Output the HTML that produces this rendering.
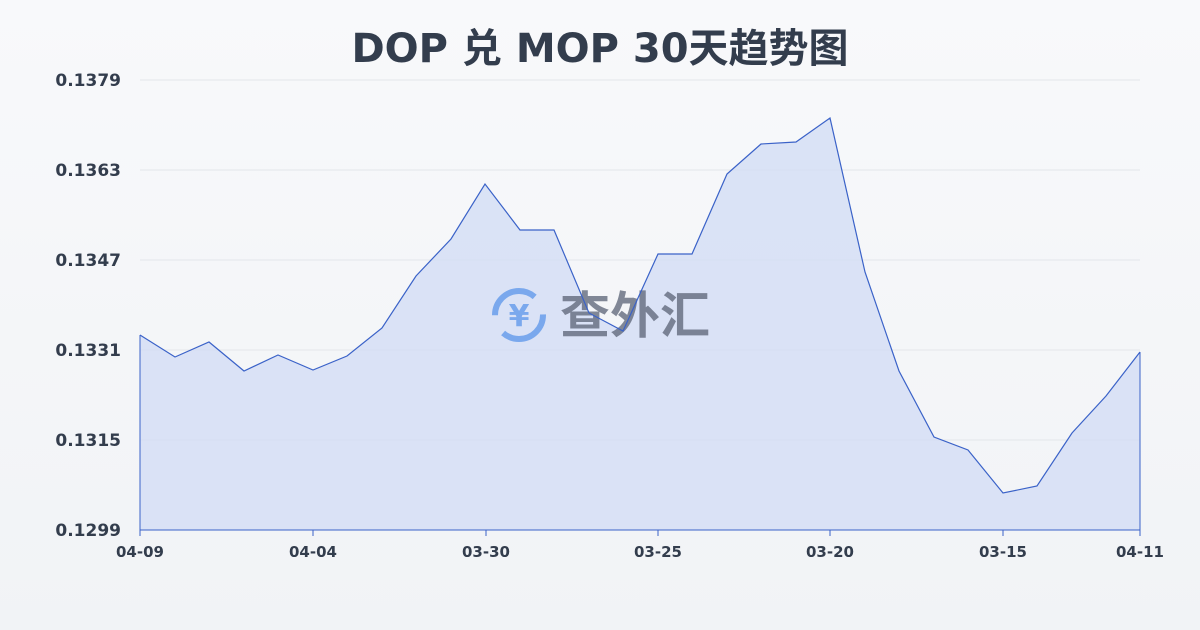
<!DOCTYPE html>
<html><head><meta charset="utf-8"><style>
html,body{margin:0;padding:0;width:1200px;height:630px;overflow:hidden;background:linear-gradient(#f8f9fb,#f1f3f6);font-family:"DejaVu Sans","Noto Sans CJK SC",sans-serif;}
</style></head><body>
<svg width="1200" height="630" xmlns="http://www.w3.org/2000/svg" style="position:absolute;left:0;top:0" font-family="DejaVu Sans, Noto Sans CJK SC, sans-serif">
<text x="600" y="62" text-anchor="middle" font-size="40" font-weight="bold" fill="#333d4d">DOP 兑 MOP 30天趋势图</text>
<g stroke="#e3e6ea" stroke-width="1">
<line x1="140" y1="80" x2="1140" y2="80"/><line x1="140" y1="170" x2="1140" y2="170"/><line x1="140" y1="260" x2="1140" y2="260"/><line x1="140" y1="350" x2="1140" y2="350"/><line x1="140" y1="440" x2="1140" y2="440"/>
</g>
<g font-size="17" font-weight="bold" fill="#333d4d" text-anchor="end">
<text x="121" y="86">0.1379</text><text x="121" y="176">0.1363</text><text x="121" y="266">0.1347</text><text x="121" y="356">0.1331</text><text x="121" y="446">0.1315</text><text x="121" y="536">0.1299</text>
</g>
<polygon fill="#d3ddf5" fill-opacity="0.8" points="140,530 140,335 175,357 209,342 244,371 278,355 313,370 347,356 382,328 416,276 451,239 485,184 520,230 554,230 589,313 623,331 658,254 692,254 727,174 761,144 796,142 830,118 865,272 899,371 934,437 968,450 1003,493 1037,486 1072,433 1106,396 1140,352 1140,530"/>
<g opacity="0.75">
<circle cx="519" cy="315" r="24" fill="none" stroke="#5b95ea" stroke-width="6" stroke-dasharray="55 20"/>
<text x="519" y="326" text-anchor="middle" font-size="30" font-weight="bold" fill="#5b95ea">¥</text>
<text x="635" y="333" text-anchor="middle" font-size="50" font-weight="bold" fill="#5a6275" font-family="Noto Sans CJK SC, sans-serif">查外汇</text>
</g>
<polyline fill="none" stroke="#3a62c8" stroke-width="1.2" points="140,335 175,357 209,342 244,371 278,355 313,370 347,356 382,328 416,276 451,239 485,184 520,230 554,230 589,313 623,331 658,254 692,254 727,174 761,144 796,142 830,118 865,272 899,371 934,437 968,450 1003,493 1037,486 1072,433 1106,396 1140,352"/>
<line x1="140" y1="530" x2="1140" y2="530" stroke="#3a62c8" stroke-width="1"/>
<line x1="140" y1="335" x2="140" y2="530" stroke="#3a62c8" stroke-width="1"/>
<line x1="1140" y1="352" x2="1140" y2="530" stroke="#3a62c8" stroke-width="1"/>
<g stroke="#3a62c8"><line x1="140" y1="530" x2="140" y2="536"/><line x1="313" y1="530" x2="313" y2="536"/><line x1="486" y1="530" x2="486" y2="536"/><line x1="658" y1="530" x2="658" y2="536"/><line x1="830" y1="530" x2="830" y2="536"/><line x1="1003" y1="530" x2="1003" y2="536"/><line x1="1140" y1="530" x2="1140" y2="536"/></g>
<g font-size="15" font-weight="bold" fill="#333d4d" text-anchor="middle">
<text x="140" y="557">04-09</text><text x="313" y="557">04-04</text><text x="486" y="557">03-30</text><text x="658" y="557">03-25</text><text x="830" y="557">03-20</text><text x="1003" y="557">03-15</text><text x="1140" y="557">04-11</text>
</g>
</svg>
</body></html>
